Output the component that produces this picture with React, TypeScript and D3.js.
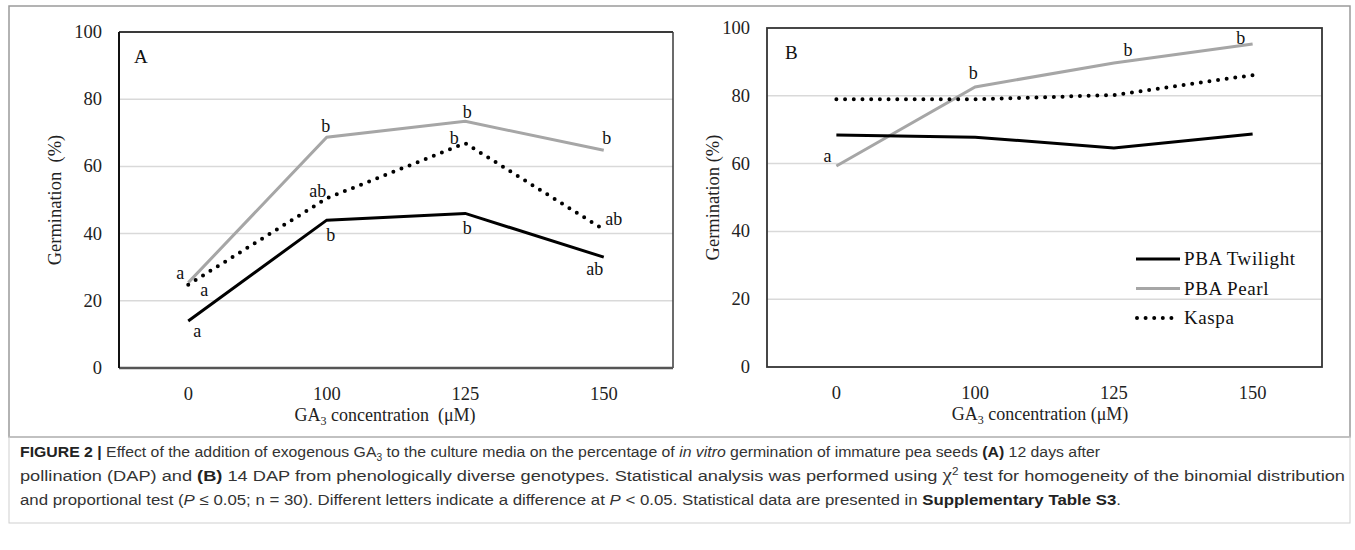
import React from "react";
import * as d3 from "d3";

const categories = ["0", "100", "125", "150"];
const yTicks = [0, 20, 40, 60, 80, 100];

// Panel A (12 DAP)
const twilightA = [14, 44, 46, 33];
const pearlA = [25.4, 68.7, 73.4, 64.8];
const kaspaA = [24.8, 50.5, 66.9, 41.2];
const twilightLettersA = ["a", "b", "b", "ab"];
const pearlLettersA = ["a", "b", "b", "b"];
const kaspaLettersA = ["a", "ab", "b", "ab"];

// Panel B (14 DAP)
const twilightB = [68.4, 67.8, 64.6, 68.7];
const pearlB = [59.3, 82.6, 89.7, 95.3];
const kaspaB = [79, 79, 80.2, 86.1];
const pearlLettersB = ["a", "b", "b", "b"];

const seriesNames = ["PBA Twilight", "PBA Pearl", "Kaspa"];

const SERIF = "'Liberation Serif', 'Times New Roman', serif";
const SANS = "'Liberation Sans Narrow', 'Liberation Sans', Arial, sans-serif";

const styles = {
  twilight: { stroke: "#000", strokeWidth: 3 },
  pearl: { stroke: "#a6a6a6", strokeWidth: 3 },
  kaspa: { stroke: "#000", strokeWidth: 4, dash: "0 8.7" },
};

type Lbl = { letters: string[]; values: number[]; off: [number, number][] };

function Panel(props: {
  left: number; right: number; top: number; bottom: number;
  tw: number[]; pe: number[]; ka: number[];
  labels: Lbl[]; panelLetter: string; titleX: number; yTitleX: number;
  xTitleCenter: number; doubleSpace: boolean; frame: "A" | "B"; legend?: boolean;
}) {
  const { left, right, top, bottom } = props;
  const x = d3.scaleBand<string>().domain(categories).range([left, right]);
  const y = d3.scaleLinear().domain([0, 100]).range([bottom, top]);
  const cx = (i: number) => (x(categories[i]) as number) + x.bandwidth() / 2;
  const line = d3.line<number>().x((_, i) => cx(i)).y((d) => y(d));
  const sp = props.doubleSpace ? "  " : " ";
  return (
    <g>
      {yTicks.filter((t) => t > 0 && t < 100).map((t) => (
        <line key={t} x1={left} x2={right} y1={y(t)} y2={y(t)} stroke="#d9d9d9" strokeWidth={1.5} />
      ))}
      {props.frame === "A" ? (
        <g>
          <line x1={left} x2={right} y1={top} y2={top} stroke="#3a3a3a" strokeWidth={2} />
          <line x1={right} x2={right} y1={top} y2={bottom} stroke="#3a3a3a" strokeWidth={1.5} />
          <line x1={left} x2={right} y1={bottom} y2={bottom} stroke="#555" strokeWidth={2.5} />
          <line x1={left} x2={left} y1={top} y2={bottom} stroke="#111" strokeWidth={2} />
        </g>
      ) : (
        <rect x={left} y={top} width={right - left} height={bottom - top} fill="none" stroke="#333" strokeWidth={1.8} />
      )}
      {yTicks.map((t) => (
        <text key={t} x={left - 17} y={y(t) + 6} textAnchor="end" fontFamily={SERIF} fontSize={18.5} fill="#222">{t}</text>
      ))}
      {categories.map((c, i) => (
        <text key={c} x={cx(i)} y={bottom + 32} textAnchor="middle" fontFamily={SERIF} fontSize={18.5} fill="#222">{c}</text>
      ))}
      <text x={props.xTitleCenter} y={bottom + 53} textAnchor="middle" fontFamily={SERIF} fontSize={18} fill="#222" style={{ whiteSpace: "pre" }}>
        <tspan>GA</tspan>
        <tspan dy={4} fontSize={12}>3</tspan>
        <tspan dy={-4}>{" concentration" + sp + "(μM)"}</tspan>
      </text>
      <text transform={`translate(${props.yTitleX},${(top + bottom) / 2}) rotate(-90)`} textAnchor="middle" dy={6} fontFamily={SERIF} fontSize={18.5} fill="#222" style={{ whiteSpace: "pre" }}>
        {"Germination" + sp + "(%)"}
      </text>
      <text x={props.titleX} y={top + 31} fontFamily={SERIF} fontSize={19} fill="#111">{props.panelLetter}</text>
      <path d={line(props.pe) || ""} fill="none" stroke={styles.pearl.stroke} strokeWidth={styles.pearl.strokeWidth} />
      <path d={line(props.tw) || ""} fill="none" stroke={styles.twilight.stroke} strokeWidth={styles.twilight.strokeWidth} />
      <path d={line(props.ka) || ""} fill="none" stroke={styles.kaspa.stroke} strokeWidth={styles.kaspa.strokeWidth} strokeDasharray={styles.kaspa.dash} strokeLinecap="round" />
      {props.labels.map((l, si) =>
        l.letters.map((lt, i) => (
          <text key={si + "-" + i} x={cx(i) + l.off[i][0]} y={y(l.values[i]) + l.off[i][1] + 6} textAnchor="middle" fontFamily={SERIF} fontSize={18} fill="#111">{lt}</text>
        ))
      )}
      {props.legend && (
        <g>
          {seriesNames.map((n, i) => {
            const ly = 259 + i * 29.5;
            const st = i === 0 ? styles.twilight : i === 1 ? styles.pearl : styles.kaspa;
            return (
              <g key={n}>
                <line x1={i === 2 ? 1137 : 1136} x2={1180} y1={ly} y2={ly} stroke={st.stroke} strokeWidth={i === 2 ? 4 : 3}
                  strokeDasharray={i === 2 ? "0 8.6" : undefined} strokeLinecap={i === 2 ? "round" : "butt"} />
                <text x={1184} y={ly + 6} fontFamily={SERIF} fontSize={19} fill="#111" letterSpacing={0.6}>{n}</text>
              </g>
            );
          })}
        </g>
      )}
    </g>
  );
}

export default function App() {
  const offA_tw: [number, number][] = [[9, 10], [4, 15], [2, 15], [-9, 12]];
  const offA_pe: [number, number][] = [[-8, -10], [-1, -11], [2, -9], [3, -12]];
  const offA_ka: [number, number][] = [[16, 5], [-9, -7], [-11, -5], [10, -11]];
  const offB_pe: [number, number][] = [[-9, -10], [-2, -14], [14, -13], [-12, -6]];
  return (
    <svg width={1355} height={550} style={{ position: "absolute", left: 0, top: 0 }}>
      <rect x={0} y={0} width={1355} height={550} fill="#fff" />
      <rect x={9} y={6} width={1341} height={431} fill="none" stroke="#9a9a9a" strokeWidth={1.5} />
      <rect x={9} y={437} width={1341} height={86} fill="none" stroke="#cfcfcf" strokeWidth={1} />
      <Panel left={119} right={673} top={32} bottom={368} tw={twilightA} pe={pearlA} ka={kaspaA}
        labels={[
          { letters: twilightLettersA, values: twilightA, off: offA_tw },
          { letters: pearlLettersA, values: pearlA, off: offA_pe },
          { letters: kaspaLettersA, values: kaspaA, off: offA_ka },
        ]}
        panelLetter="A" titleX={134} yTitleX={55} xTitleCenter={385} doubleSpace={true} frame="A" />
      <Panel left={767} right={1322} top={28} bottom={367} tw={twilightB} pe={pearlB} ka={kaspaB}
        labels={[{ letters: pearlLettersB, values: pearlB, off: offB_pe }]}
        panelLetter="B" titleX={785} yTitleX={713} xTitleCenter={1040} doubleSpace={false} frame="B" legend={true} />
      <g fontFamily={SANS} fontSize={15.5} fill="#333">
        <text x={20} y={457} textLength={1080} lengthAdjust="spacingAndGlyphs">
          <tspan fontWeight="bold" fill="#222">FIGURE 2 | </tspan>
          <tspan>Effect of the addition of exogenous GA</tspan>
          <tspan dy={4} fontSize={10}>3</tspan>
          <tspan dy={-4}> to the culture media on the percentage of </tspan>
          <tspan fontStyle="italic">in vitro</tspan>
          <tspan> germination of immature pea seeds </tspan>
          <tspan fontWeight="bold" fill="#222">(A)</tspan>
          <tspan> 12 days after</tspan>
        </text>
        <text x={20} y={481} textLength={1325} lengthAdjust="spacingAndGlyphs">
          <tspan>pollination (DAP) and </tspan>
          <tspan fontWeight="bold" fill="#222">(B)</tspan>
          <tspan> 14 DAP from phenologically diverse genotypes. Statistical analysis was performed using </tspan>
          <tspan fontFamily={SERIF} fontSize={18}>χ</tspan>
          <tspan dy={-6} fontSize={10}>2</tspan>
          <tspan dy={6}> test for homogeneity of the binomial distribution</tspan>
        </text>
        <text x={20} y={505} textLength={1101} lengthAdjust="spacingAndGlyphs">
          <tspan>and proportional test (</tspan>
          <tspan fontStyle="italic">P</tspan>
          <tspan> ≤ 0.05; n = 30). Different letters indicate a difference at </tspan>
          <tspan fontStyle="italic">P</tspan>
          <tspan> &lt; 0.05. Statistical data are presented in </tspan>
          <tspan fontWeight="bold" fill="#222">Supplementary Table S3</tspan>
          <tspan>.</tspan>
        </text>
      </g>
    </svg>
  );
}
